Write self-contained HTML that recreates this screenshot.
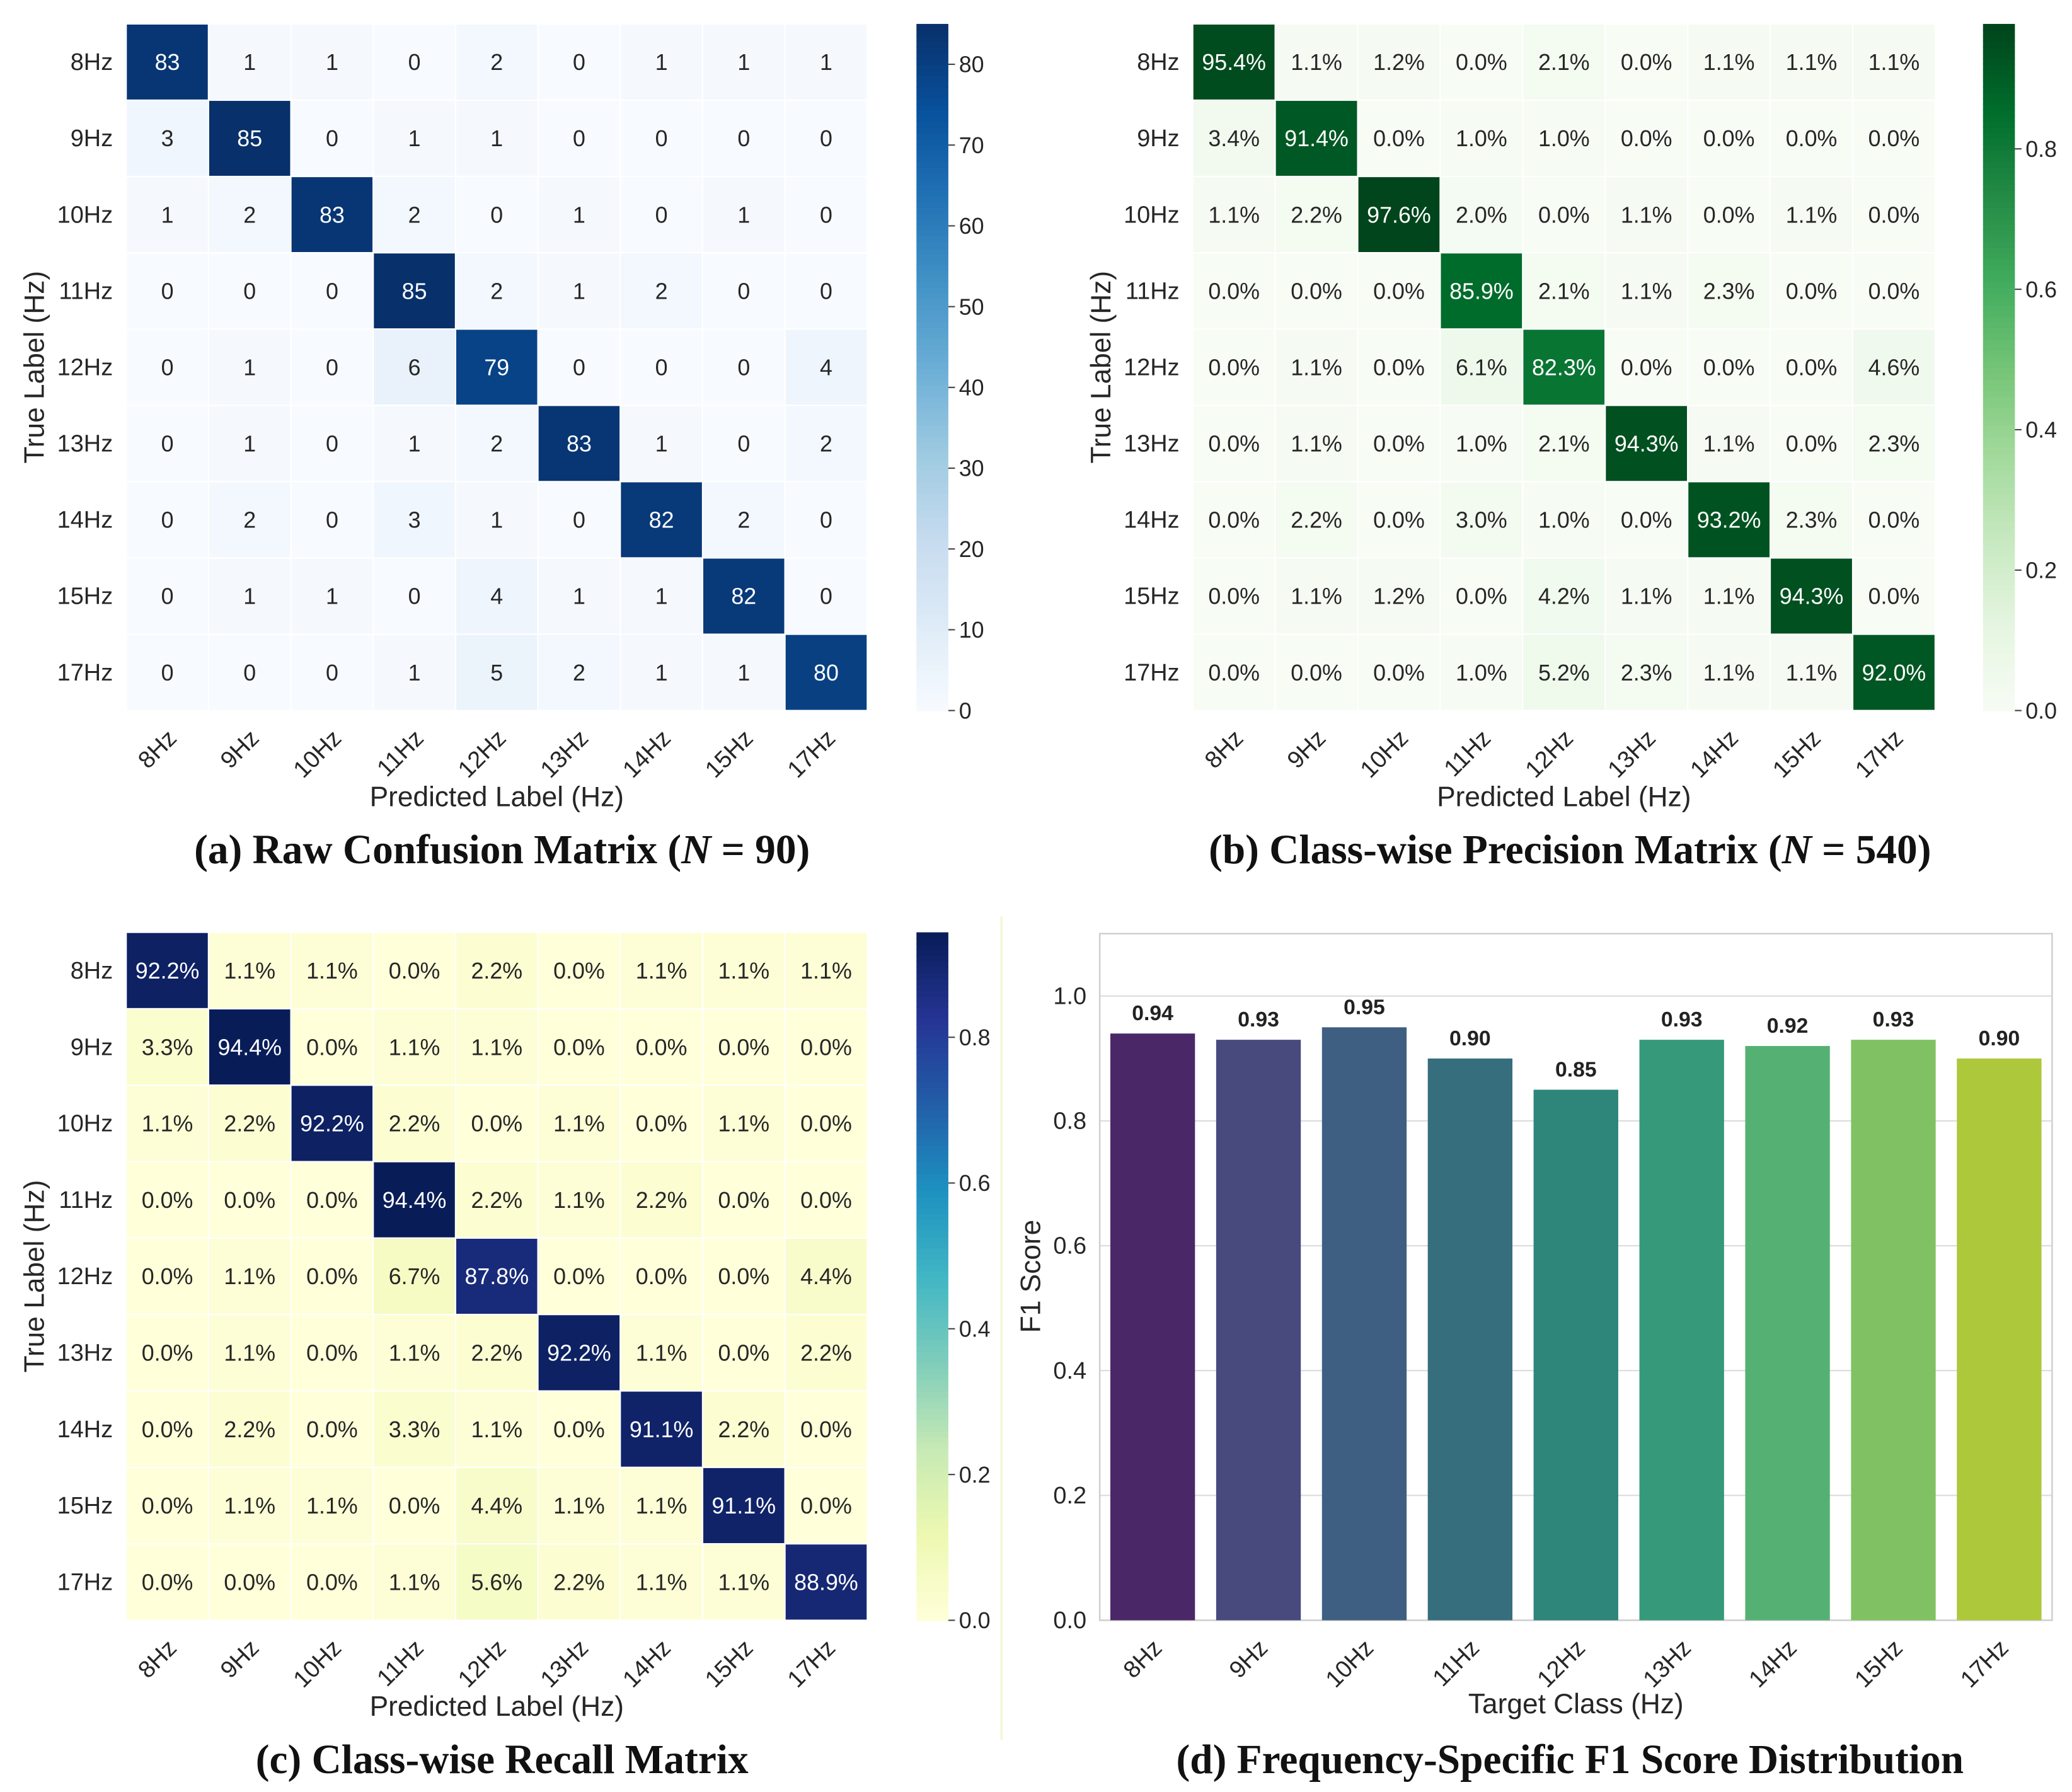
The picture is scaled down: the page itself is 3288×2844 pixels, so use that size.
<!DOCTYPE html>
<html><head><meta charset="utf-8"><style>
html,body{margin:0;padding:0;background:#fff;}
svg{display:block;}
text{font-family:"Liberation Sans",Arial,sans-serif;fill:#262626;}
.ttl{font-family:"Liberation Serif","Times New Roman",serif;font-weight:bold;font-size:31px;fill:#111;}
</style></head><body>
<svg id="fig" xmlns="http://www.w3.org/2000/svg" width="3288" height="2844" viewBox="0 0 1560 1349.3" preserveAspectRatio="none">
<rect width="1560" height="1350" fill="#fff"/>
<line x1="754" y1="690" x2="754" y2="1310" stroke="#f4f6cf" stroke-width="1.5"/>
</svg>
<script>
const classes=["8Hz","9Hz","10Hz","11Hz","12Hz","13Hz","14Hz","15Hz","17Hz"];
const rawCounts=[
[83,1,1,0,2,0,1,1,1],
[3,85,0,1,1,0,0,0,0],
[1,2,83,2,0,1,0,1,0],
[0,0,0,85,2,1,2,0,0],
[0,1,0,6,79,0,0,0,4],
[0,1,0,1,2,83,1,0,2],
[0,2,0,3,1,0,82,2,0],
[0,1,1,0,4,1,1,82,0],
[0,0,0,1,5,2,1,1,80]];
const precisionPct=[
[95.4,1.1,1.2,0.0,2.1,0.0,1.1,1.1,1.1],
[3.4,91.4,0.0,1.0,1.0,0.0,0.0,0.0,0.0],
[1.1,2.2,97.6,2.0,0.0,1.1,0.0,1.1,0.0],
[0.0,0.0,0.0,85.9,2.1,1.1,2.3,0.0,0.0],
[0.0,1.1,0.0,6.1,82.3,0.0,0.0,0.0,4.6],
[0.0,1.1,0.0,1.0,2.1,94.3,1.1,0.0,2.3],
[0.0,2.2,0.0,3.0,1.0,0.0,93.2,2.3,0.0],
[0.0,1.1,1.2,0.0,4.2,1.1,1.1,94.3,0.0],
[0.0,0.0,0.0,1.0,5.2,2.3,1.1,1.1,92.0]];
const recallPct=[
[92.2,1.1,1.1,0.0,2.2,0.0,1.1,1.1,1.1],
[3.3,94.4,0.0,1.1,1.1,0.0,0.0,0.0,0.0],
[1.1,2.2,92.2,2.2,0.0,1.1,0.0,1.1,0.0],
[0.0,0.0,0.0,94.4,2.2,1.1,2.2,0.0,0.0],
[0.0,1.1,0.0,6.7,87.8,0.0,0.0,0.0,4.4],
[0.0,1.1,0.0,1.1,2.2,92.2,1.1,0.0,2.2],
[0.0,2.2,0.0,3.3,1.1,0.0,91.1,2.2,0.0],
[0.0,1.1,1.1,0.0,4.4,1.1,1.1,91.1,0.0],
[0.0,0.0,0.0,1.1,5.6,2.2,1.1,1.1,88.9]];
const f1Scores=[0.94,0.93,0.95,0.90,0.85,0.93,0.92,0.93,0.90];
const f1Labels=["0.94","0.93","0.95","0.90","0.85","0.93","0.92","0.93","0.90"];
const rawTicks=[0,10,20,30,40,50,60,70,80];
const fracTicks=[0,0.2,0.4,0.6,0.8];
const f1Ticks=[0,0.2,0.4,0.6,0.8,1.0];
const barColors=["#4a2868","#48497d","#3f5f82","#376e7e","#2e857a","#369a7a","#55b173","#80c263","#adc83b"];

const BLUES=["#f7fbff","#deebf7","#c6dbef","#9ecae1","#6baed6","#4292c6","#2171b5","#08519c","#08306b"];
const GREENS=["#f7fcf5","#e5f5e0","#c7e9c0","#a1d99b","#74c476","#41ab5d","#238b45","#006d2c","#00441b"];
const YLGNBU=["#ffffd9","#edf8b1","#c7e9b4","#7fcdbb","#41b6c4","#1d91c0","#225ea8","#253494","#081d58"];
function hx(h){return [1,3,5].map(i=>parseInt(h.substr(i,2),16));}
function cmap(stops,t){t=Math.max(0,Math.min(1,t));const p=t*(stops.length-1);const i=Math.min(stops.length-2,Math.floor(p));const f=p-i;const a=hx(stops[i]),b=hx(stops[i+1]);return "rgb("+a.map((v,k)=>Math.round(v+(b[k]-v)*f)).join(",")+")";}
const NS="http://www.w3.org/2000/svg";
const svg=document.getElementById("fig");
function el(tag,attrs,parent){const e=document.createElementNS(NS,tag);for(const k in attrs)e.setAttribute(k,attrs[k]);(parent||svg).appendChild(e);return e;}
function txt(s,attrs,parent){const e=el("text",attrs,parent);e.textContent=s;return e;}

function heatmap(o){
  const g=el("g",{});
  
  
  const n=classes.length,cw=(o.x1-o.x0)/n,ch=(o.y1-o.y0)/n;
  const xs=i=>o.x0+i*cw, ys=j=>o.y0+j*ch;
  for(let r=0;r<n;r++)for(let c=0;c<n;c++){
    const v=o.data[r][c];const t=v/o.vmax;
    const rc=el("rect",{x:xs(c),y:ys(r),width:cw,height:ch,fill:cmap(o.stops,t),stroke:"#fff","stroke-width":1},g);
    
    
    const tt=txt(o.fmt(v),{x:xs(c)+cw/2,y:ys(r)+ch/2+6,"text-anchor":"middle","font-size":17},g);
    tt.style.fill=t>0.5?"#fff":"#262626";
    
    
  }
  for(let r=0;r<n;r++){
    const t=txt(classes[r],{x:o.x0-10,y:ys(r)+ch/2+6,"text-anchor":"end","font-size":18},g);
    
    
  }
  for(let c=0;c<n;c++){
    const cx=xs(c)+cw/2,cy=o.y1+12;
    const t=txt(classes[c],{x:cx+8,y:cy+10,"text-anchor":"end","font-size":18,transform:"rotate(-45 "+(cx+8)+" "+(cy+10)+")"},g);
    
    
  }
  const xl=txt("Predicted Label (Hz)",{x:(o.x0+o.x1)/2,y:o.y1+72,"text-anchor":"middle","font-size":21},g);
  
  
  const yc=(o.y0+o.y1)/2,yx=o.x0-62;
  const yl=txt("True Label (Hz)",{x:yx,y:yc,"text-anchor":"middle","font-size":21,transform:"rotate(-90 "+yx+" "+yc+")"},g);
  
  
  const cb=el("g",{},g);
  
  
  const steps=120,hh=(o.y1-o.y0)/steps;
  for(let i=0;i<steps;i++){
    el("rect",{x:o.cbx,y:o.y1-(i+1)*hh,width:24,height:hh+0.6,fill:cmap(o.stops,(i+0.5)/steps)},cb);
  }
  const cy=v=>o.y1-v/o.vmax*(o.y1-o.y0);
  o.ticks.forEach(v=>{
    el("line",{x1:o.cbx+24,x2:o.cbx+29,y1:cy(v),y2:cy(v),stroke:"#444","stroke-width":1},cb);
    const t=txt(o.tfmt(v),{x:o.cbx+32,y:cy(v)+6,"font-size":17},cb);
    
    
  });
  const ti=el("text",{x:o.tx,y:o.ty,"text-anchor":"middle",class:"ttl"},g);
  ti.innerHTML=o.title;
  
  
}
heatmap({name:"raw-confusion-matrix",data:rawCounts,stops:BLUES,vmax:85,x0:95,x1:653,y0:18,y1:535,cbx:690,ticks:rawTicks,tfmt:v=>String(v),fmt:v=>String(v),tx:378,ty:650,title:'(a) Raw Confusion Matrix (<tspan font-style="italic">N</tspan> = 90)'});
heatmap({name:"precision-matrix",data:precisionPct,stops:GREENS,vmax:97.8,x0:898,x1:1457,y0:18,y1:535,cbx:1493,ticks:fracTicks.map(v=>v*100),tfmt:v=>(v/100).toFixed(1),fmt:v=>v.toFixed(1)+"%",tx:1182,ty:650,title:'(b) Class-wise Precision Matrix (<tspan font-style="italic">N</tspan> = 540)'});
heatmap({name:"recall-matrix",data:recallPct,stops:YLGNBU,vmax:94.4,x0:95,x1:653,y0:702,y1:1220,cbx:690,ticks:fracTicks.map(v=>v*100),tfmt:v=>(v/100).toFixed(1),fmt:v=>v.toFixed(1)+"%",tx:378,ty:1335,title:'(c) Class-wise Recall Matrix'});

(function(){
  const g=el("g",{});
  
  
  const X0=828,X1=1545,Y0=703,Y1=1220,YMAX=1.1;
  const y=v=>Y1-v/YMAX*(Y1-Y0);
  const slot=(X1-X0)/classes.length;
  const x=i=>X0+i*slot;
  f1Ticks.forEach(v=>{
    el("line",{x1:X0,x2:X1,y1:y(v),y2:y(v),stroke:"#dcdcdc","stroke-width":1},g);
    const t=txt(v.toFixed(1),{x:X0-10,y:y(v)+6,"text-anchor":"end","font-size":18},g);
    
    
  });
  el("rect",{x:X0,y:Y0,width:X1-X0,height:Y1-Y0,fill:"none",stroke:"#d0d0d0","stroke-width":1.2},g);
  f1Scores.forEach((v,i)=>{
    const b=el("rect",{x:x(i)+slot*0.1,y:y(v),width:slot*0.8,height:Y1-y(v),fill:barColors[i]},g);
    
    
    const t=txt(f1Labels[i],{x:x(i)+slot/2,y:y(v)-10,"text-anchor":"middle","font-size":16,"font-weight":"bold"},g);
    t.style.fill="#222";
    
    
    const cx=x(i)+slot/2,cy=Y1+12;
    const xt=txt(classes[i],{x:cx+8,y:cy+10,"text-anchor":"end","font-size":18,transform:"rotate(-45 "+(cx+8)+" "+(cy+10)+")"},g);
    
    
  });
  const xl=txt("Target Class (Hz)",{x:(X0+X1)/2,y:1290,"text-anchor":"middle","font-size":21},g);
  
  
  const yl=txt("F1 Score",{x:783,y:961,"text-anchor":"middle","font-size":21,transform:"rotate(-90 783 961)"},g);
  
  
  const ti=txt("(d) Frequency-Specific F1 Score Distribution",{x:1182,y:1335,"text-anchor":"middle",class:"ttl"},g);
  
  
})();
</script>
</body></html>
